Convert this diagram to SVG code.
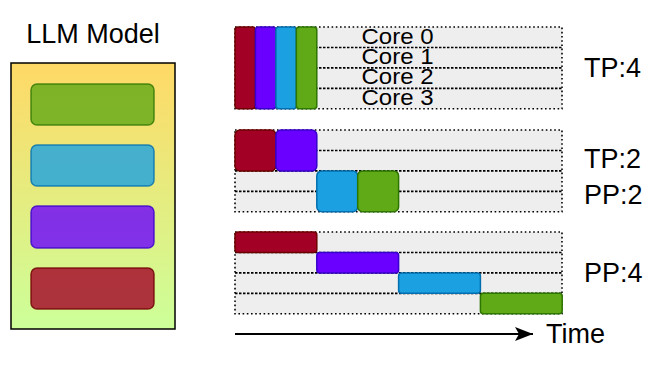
<svg xmlns="http://www.w3.org/2000/svg" width="664" height="371" viewBox="0 0 664 371">
<defs>
<linearGradient id="g" x1="0" y1="0" x2="0" y2="1">
<stop offset="0" stop-color="#FFD966"/>
<stop offset="1" stop-color="#CCFF99"/>
</linearGradient>
<marker id="ah" markerWidth="18" markerHeight="14" refX="18" refY="7" orient="auto" markerUnits="userSpaceOnUse">
<path d="M0,0 L18,7 L0,14 L4,7 Z" fill="#000"/>
</marker>
<style>
text{font-family:"Liberation Sans",Arial,Helvetica,sans-serif;fill:#000}
.lbl{font-size:27px}
.core{font-size:22px}
.grid{fill:#EEEEEE;stroke:#000;stroke-width:1.6;stroke-dasharray:1.6 2.6}
.row{stroke:#000;stroke-width:1.6;stroke-dasharray:2.5 1.5;fill:none}
.r{fill:#A20025;stroke:#6F0000;stroke-width:1.5}
.p{fill:#6A00FF;stroke:#3700CC;stroke-width:1.5}
.b{fill:#1BA1E2;stroke:#006EAF;stroke-width:1.5}
.gr{fill:#60A917;stroke:#2D7600;stroke-width:1.5}
.m{fill-opacity:0.8;stroke-opacity:0.8}
</style>
</defs>
<rect width="664" height="371" fill="#fff"/>

<g id="llm-model">
<text class="lbl" x="93" y="43" text-anchor="middle">LLM Model</text>
<rect x="11" y="63" width="164" height="266" fill="url(#g)" stroke="#000" stroke-width="1.5"/>
<rect class="gr m" x="31" y="84" width="123" height="41" rx="6"/>
<rect class="b m" x="31" y="145" width="123" height="41" rx="6"/>
<rect class="p m" x="31" y="206" width="123" height="42" rx="6"/>
<rect class="r m" x="31" y="268" width="123" height="41" rx="6"/>
</g>

<g id="tp4">
<rect class="grid" x="235" y="27" width="327" height="81.8"/>
<line class="row" x1="235" y1="47.45" x2="562" y2="47.45"/>
<line class="row" x1="235" y1="67.9" x2="562" y2="67.9"/>
<line class="row" x1="235" y1="88.35" x2="562" y2="88.35"/>
<rect class="r" x="235" y="27" width="20.45" height="81.8" rx="3"/>
<rect class="p" x="255.45" y="27" width="20.45" height="81.8" rx="3"/>
<rect class="b" x="275.9" y="27" width="20.45" height="81.8" rx="3"/>
<rect class="gr" x="296.35" y="27" width="20.45" height="81.8" rx="3"/>
<text class="core" x="397.5" y="43.8" text-anchor="middle" textLength="72" lengthAdjust="spacingAndGlyphs">Core 0</text>
<text class="core" x="397.5" y="64.1" text-anchor="middle" textLength="72" lengthAdjust="spacingAndGlyphs">Core 1</text>
<text class="core" x="397.5" y="84.4" text-anchor="middle" textLength="72" lengthAdjust="spacingAndGlyphs">Core 2</text>
<text class="core" x="397.5" y="104.7" text-anchor="middle" textLength="72" lengthAdjust="spacingAndGlyphs">Core 3</text>
<text class="lbl" x="584" y="77">TP:4</text>
</g>

<g id="tp2-pp2">
<rect class="grid" x="235" y="130" width="327" height="81.8"/>
<line class="row" x1="235" y1="150.45" x2="562" y2="150.45"/>
<line class="row" x1="235" y1="170.9" x2="562" y2="170.9"/>
<line class="row" x1="235" y1="191.35" x2="562" y2="191.35"/>
<rect class="r" x="235" y="130" width="40.9" height="40.9" rx="5"/>
<rect class="p" x="275.9" y="130" width="40.9" height="40.9" rx="5"/>
<rect class="b" x="316.8" y="170.9" width="40.9" height="40.9" rx="5"/>
<rect class="gr" x="357.7" y="170.9" width="40.9" height="40.9" rx="5"/>
<text class="lbl" x="584" y="168">TP:2</text>
<text class="lbl" x="584" y="203.5">PP:2</text>
</g>

<g id="pp4">
<rect class="grid" x="235" y="232" width="327" height="81.8"/>
<line class="row" x1="235" y1="252.45" x2="562" y2="252.45"/>
<line class="row" x1="235" y1="272.9" x2="562" y2="272.9"/>
<line class="row" x1="235" y1="293.35" x2="562" y2="293.35"/>
<rect class="r" x="235" y="232" width="81.8" height="20.45" rx="3"/>
<rect class="p" x="316.8" y="252.45" width="81.8" height="20.45" rx="3"/>
<rect class="b" x="398.6" y="272.9" width="81.8" height="20.45" rx="3"/>
<rect class="gr" x="480.4" y="293.35" width="81.8" height="20.45" rx="3"/>
<text class="lbl" x="584" y="282">PP:4</text>
</g>

<g id="connectors">
<line x1="235" y1="334" x2="533" y2="334" stroke="#000" stroke-width="2" marker-end="url(#ah)"/>
</g>
<g id="time-label">
<text class="lbl" x="546" y="343">Time</text>
</g>
</svg>
